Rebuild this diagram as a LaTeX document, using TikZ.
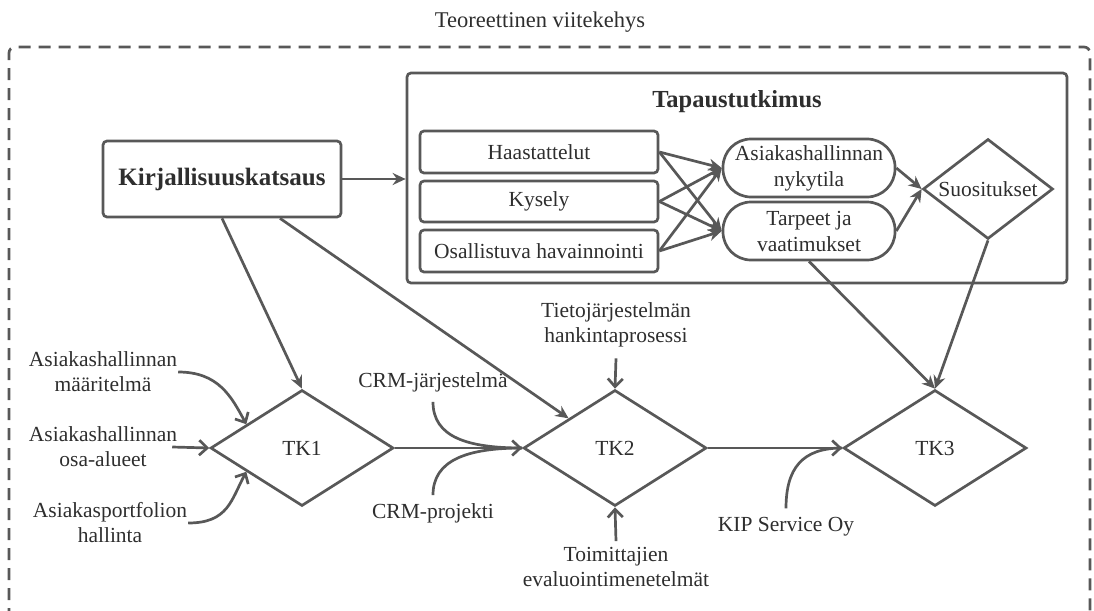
\documentclass[tikz,border=0pt]{standalone}
\usepackage{fontspec}
\setmainfont{Liberation Serif}
\usetikzlibrary{shapes.geometric,arrows.meta,calc}
\definecolor{ln}{HTML}{585858}
\definecolor{tx}{HTML}{2E2E2E}
\begin{document}
\begin{tikzpicture}[x=1pt,y=-1pt,
  every node/.style={text=tx},
  base/.style={font=\fontsize{21.5}{25}\selectfont},
  lbl/.style={base, align=center, inner sep=1pt},
  box/.style={base, draw=ln, line width=2.7pt, rounded corners=4pt, minimum width=238pt, inner sep=0pt},
  oval/.style={draw=ln, line width=2.7pt, rectangle, rounded corners=28pt, minimum width=172pt, minimum height=58pt, align=center, inner sep=0pt, font=\fontsize{21.5}{26}\selectfont},
  dia/.style={base, draw=ln, line width=2.7pt, diamond, inner sep=0pt, minimum width=183pt, minimum height=116pt},
  conn/.style={draw=ln, line width=2.7pt},
  sarr/.style={conn, -{Stealth[length=13pt,width=12pt]}},
  barb/.style={conn, -{Straight Barb[length=8pt,width=15pt]}},
]
\useasboundingbox (0,0) rectangle (1094,610);
\clip (0,0) rectangle (1094,610);

% outer dashed frame
\draw[ln, line width=2.7pt, dash pattern=on 12pt off 8pt, rounded corners=6pt]
  (9,640) -- (9,47) -- (1090,47) -- (1090,640);
\node[lbl, font=\fontsize{22.5}{26}\selectfont] (title) at (540,22) {Teoreettinen viitekehys};

% case study box
\node[draw=ln, line width=2.7pt, rounded corners=4pt, minimum width=660pt, minimum height=210pt, inner sep=0pt] (tap) at (737,178) {};
\node[font=\bfseries\fontsize{24.5}{28}\selectfont] (taptitle) at (737,102) {Tapaustutkimus};

\node[box, minimum height=76pt, font=\bfseries\fontsize{25}{30}\selectfont] (kirj) at (222,179) {Kirjallisuuskatsaus};

\node[box, minimum height=42pt] (haas) at (539,152) {Haastattelut};
\node[box, minimum height=41pt] (kys) at (539,201.5) {Kysely};
\node[box, minimum height=42pt] (osa) at (539,251) {Osallistuva havainnointi};

\node[oval] (nyk) at (809,168) {Asiakashallinnan\\nykytila};
\node[oval] (tarp) at (809,231) {Tarpeet ja\\vaatimukset};

\node[dia, aspect=1.3, minimum width=130pt, minimum height=100pt] (suo) at (988,189) {Suositukset};

\node[dia] (tk1) at (302,448) {TK1};
\node[dia] (tk2) at (615,448) {TK2};
\node[dia] (tk3) at (935,448) {TK3};

% labels
\node[lbl] (ahm) at (103,372) {Asiakashallinnan\\määritelmä};
\node[lbl] (aho) at (103,447) {Asiakashallinnan\\osa-alueet};
\node[lbl] (apf) at (110,523) {Asiakasportfolion\\hallinta};
\node[lbl] (crmj) at (433,382) {CRM-järjestelmä};
\node[lbl] (crmp) at (433,513) {CRM-projekti};
\node[lbl] (tjh) at (616,325) {Tietojärjestelmän\\hankintaprosessi};
\node[lbl] (toim) at (616,567) {Toimittajien\\evaluointimenetelmät};
\node[lbl] (kip) at (786,527) {KIP Service Oy};

% connectors: literature review
\draw[sarr] (kirj.east) -- (kirj.east -| tap.west);
\draw[sarr] (kirj.south) -- (tk1.north);
\draw[sarr] ([xshift=58pt]kirj.south) -- ($(tk2.west)!0.5!(tk2.north)$);

% methods to findings
\foreach \s in {haas,kys,osa}{
  \foreach \t in {nyk,tarp}{
    \draw[sarr] (\s.east) -- (\t.west);
  }
}
\draw[sarr] (nyk.east) -- (suo.west);
\draw[sarr] (tarp.east) -- (suo.west);
\draw[sarr] (tarp.south) -- (tk3.north);
\draw[sarr] (suo.south) -- (tk3.north);

% inputs to TK1
\draw[barb] (ahm.east) .. controls +(40,0) and +(-15,-28) .. ($(tk1.west)!0.4!(tk1.north)$);
\draw[barb] ([xshift=-6pt]aho.east) -- (tk1.west);
\draw[barb] (apf.east) .. controls +(40,0) and +(-15,28) .. ($(tk1.west)!0.4!(tk1.south)$);

% TK1 -> TK2 with CRM inputs
\draw[conn] ($(crmj.south)+(0,9)$) .. controls +(0,35) and +(-55,0) .. (tk2.west);
\draw[conn] ($(crmp.north)+(0,-7)$) .. controls +(0,-35) and +(-55,0) .. (tk2.west);
\draw[barb] (tk1.east) -- (tk2.west);
\draw[barb] ($(tjh.south)+(0,10)$) -- (tk2.north);
\draw[barb] ($(toim.north)+(0,-5)$) -- (tk2.south);

% TK2 -> TK3
\draw[conn] ($(kip.north)+(0,-8)$) .. controls +(0,-40) and +(-40,0) .. (tk3.west);
\draw[barb] (tk2.east) -- (tk3.west);
\end{tikzpicture}
\end{document}
